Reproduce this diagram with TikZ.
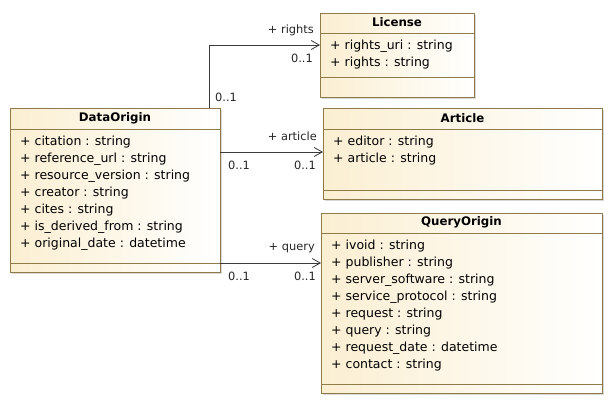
\documentclass[tikz,border=0pt]{standalone}
\usepackage{fontspec}
\setmainfont{DejaVu Sans}
\usetikzlibrary{arrows.meta,shadows}
\definecolor{umlborder}{HTML}{8F7B4A}
\definecolor{umlfill}{HTML}{FBEFD2}
\definecolor{umlline}{HTML}{3A3A3A}
\tikzset{
  cls/.style={draw=umlborder, line width=0.9pt, left color=umlfill, right color=white,
    anchor=north west, inner sep=0pt, outer sep=0pt,
    drop shadow={shadow xshift=1.5pt, shadow yshift=-1.5pt, fill=black!30, opacity=0.5}},
  sep/.style={draw=umlborder, line width=0.9pt},
  ttl/.style={font=\fontsize{11.8}{13}\selectfont\bfseries, inner sep=0pt},
  attr/.style={font=\fontsize{12.5}{14}\selectfont, anchor=west, inner sep=0pt},
  lbl/.style={font=\fontsize{11.4}{13}\selectfont, inner sep=0pt, text=black!85},
  assoc/.style={draw=umlline, line width=0.8pt, -{Straight Barb[length=8pt,width=9pt,line width=0.8pt]}},
}
\begin{document}
\begin{tikzpicture}[x=1pt,y=-1pt]
\useasboundingbox[fill=white] (0,0) rectangle (614,405);

% DataOrigin
\node[cls, minimum width=210pt, minimum height=164pt] (do) at (10,108) {};
\draw[sep] ([yshift=-21pt]do.north west) -- ([yshift=-21pt]do.north east);
\draw[sep] ([yshift=9pt]do.south west) -- ([yshift=9pt]do.south east);
\node[ttl] (dot) at (115,118.5) {DataOrigin};
\node[attr] (do1) at (20,142) {+ citation : string};
\node[attr] (do2) at (20,159) {+ reference\_url : string};
\node[attr] (do3) at (20,176) {+ resource\_version : string};
\node[attr] (do4) at (20,193) {+ creator : string};
\node[attr] (do5) at (20,210) {+ cites : string};
\node[attr] (do6) at (20,227) {+ is\_derived\_from : string};
\node[attr] (do7) at (20,244) {+ original\_date : datetime};

% License
\node[cls, minimum width=154pt, minimum height=84pt] (lic) at (320,13) {};
\draw[sep] ([yshift=-20pt]lic.north west) -- ([yshift=-20pt]lic.north east);
\draw[sep] ([yshift=20pt]lic.south west) -- ([yshift=20pt]lic.south east);
\node[ttl] (lict) at (397,22.5) {License};
\node[attr] (lic1) at (330,46) {+ rights\_uri : string};
\node[attr] (lic2) at (330,63) {+ rights : string};

% Article
\node[cls, minimum width=279pt, minimum height=91pt] (art) at (323,108) {};
\draw[sep] ([yshift=-21pt]art.north west) -- ([yshift=-21pt]art.north east);
\draw[sep] ([yshift=9pt]art.south west) -- ([yshift=9pt]art.south east);
\node[ttl] (artt) at (462.5,118.5) {Article};
\node[attr] (art1) at (333,142) {+ editor : string};
\node[attr] (art2) at (333,159) {+ article : string};

% QueryOrigin
\node[cls, minimum width=281pt, minimum height=180pt] (qo) at (321,213) {};
\draw[sep] ([yshift=-20pt]qo.north west) -- ([yshift=-20pt]qo.north east);
\draw[sep] ([yshift=9pt]qo.south west) -- ([yshift=9pt]qo.south east);
\node[ttl] (qot) at (461.5,222.5) {QueryOrigin};
\node[attr] (qo1) at (331,246) {+ ivoid : string};
\node[attr] (qo2) at (331,263) {+ publisher : string};
\node[attr] (qo3) at (331,280) {+ server\_software : string};
\node[attr] (qo4) at (331,297) {+ service\_protocol : string};
\node[attr] (qo5) at (331,314) {+ request : string};
\node[attr] (qo6) at (331,331) {+ query : string};
\node[attr] (qo7) at (331,348) {+ request\_date : datetime};
\node[attr] (qo8) at (331,365) {+ contact : string};

% Associations
\draw[assoc] ([xshift=199pt]do.north west) |- ([yshift=-32pt]lic.north west);
\draw[assoc] ([yshift=-44pt]do.north east) -- ([yshift=-44pt]art.north west);
\draw[assoc] ([yshift=-155pt]do.north east) -- ([yshift=-50pt]qo.north west);

% Labels
\node[lbl, anchor=east] (l1) at (314,30) {+ rights};
\node[lbl, anchor=east] (l2) at (313,58) {0..1};
\node[lbl, anchor=west] (l3) at (215,97) {0..1};
\node[lbl, anchor=east] (l4) at (317,136) {+ article};
\node[lbl, anchor=west] (l5) at (228,165) {0..1};
\node[lbl, anchor=east] (l6) at (316,165) {0..1};
\node[lbl, anchor=east] (l7) at (315,248) {+ query};
\node[lbl, anchor=west] (l8) at (228,276) {0..1};
\node[lbl, anchor=east] (l9) at (316,276) {0..1};
\end{tikzpicture}
\end{document}
